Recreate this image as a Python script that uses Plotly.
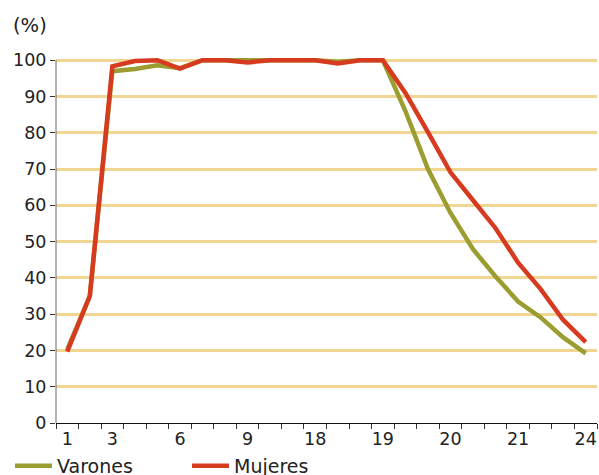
import plotly.graph_objects as go

positions = list(range(24))
tick_positions = [0, 2, 5, 8, 11, 14, 17, 20, 23]
tick_labels = ["1", "3", "6", "9", "18", "19", "20", "21", "24"]

varones = [20.3, 35.0, 97.0, 97.6, 98.6, 97.8, 100, 100, 100, 100, 100, 100,
           99.6, 100, 100, 86.0, 70.0, 57.9, 47.9, 40.4, 33.5, 29.1, 23.6, 19.2]
mujeres = [19.7, 35.0, 98.3, 99.8, 100, 97.7, 100, 100, 99.4, 100, 100, 100,
           99.1, 100, 100, 91.0, 80.2, 69.1, 61.4, 53.7, 44.2, 36.9, 28.4, 22.3]

GREEN = "#9b9d30"
RED = "#d63b20"
FONT = "DejaVu Sans"

L, R, T, B = 56, 2, 52.7, 51.7
PW = 599 - L - R
PH = 475 - T - B

fig = go.Figure()
fig.add_trace(go.Scatter(x=positions, y=varones, mode="lines", name="Varones",
                         line=dict(color=GREEN, width=4.5)))
fig.add_trace(go.Scatter(x=positions, y=mujeres, mode="lines", name="Mujeres",
                         line=dict(color=RED, width=4.5)))

fig.update_layout(
    width=599, height=475,
    margin=dict(l=L, r=R, t=T, b=B, autoexpand=False),
    paper_bgcolor="white", plot_bgcolor="white",
    font=dict(family=FONT, size=17.5, color="#222"),
    showlegend=True,
    legend=dict(orientation="h", xref="container", yref="container",
                x=10 / 599, y=0.019, xanchor="left", yanchor="middle",
                font=dict(size=19, color="#222"), entrywidth=125,
                entrywidthmode="pixels", itemwidth=37,
                bgcolor="rgba(0,0,0,0)"),
    xaxis=dict(range=[-0.5, 23.5], tickmode="array", tickvals=tick_positions,
               ticktext=tick_labels, ticks="", showgrid=False, zeroline=False,
               showline=True, linecolor="#111", linewidth=1.3, automargin=False,
               minor=dict(tick0=-0.5, dtick=1, ticks="outside", ticklen=5,
                          tickcolor="#333", tickwidth=1, showgrid=False)),
    yaxis=dict(range=[0, 102], tickmode="array", tickvals=list(range(0, 101, 10)),
               ticks="outside", ticklen=5, tickcolor="#333", tickwidth=1,
               showgrid=True, gridcolor="#f1d593", gridwidth=2.5, automargin=False,
               zeroline=False, showline=False),
    annotations=[dict(text="(%)", xref="paper", yref="paper",
                      x=(11 - L) / PW, y=1 + (T - 25) / PH,
                      xanchor="left", yanchor="middle", showarrow=False,
                      font=dict(size=19.5, color="#222"))],
    shapes=[dict(type="line", xref="paper", yref="y", x0=0, x1=0, y0=0, y1=100,
                 line=dict(color="#666", width=1))],
)

fig.write_html(
    "out.html",
    config={"displayModeBar": False},
    post_script="document.body.style.margin='0px';document.documentElement.style.overflow='hidden';",
)
